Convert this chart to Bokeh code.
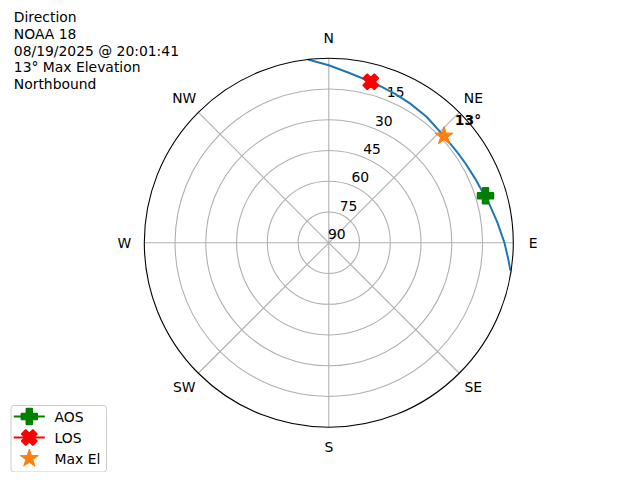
import numpy as np
from bokeh.plotting import figure
from bokeh.models import Range1d
from bokeh.core.properties import value
from bokeh.embed import file_html
from bokeh.resources import INLINE

# ---------------- data ----------------
track_az = [-6.5, 0.0, 6.7, 14.6, 18.2, 24.0, 30.2, 37.8, 47.2, 55.0, 60.0, 66.0, 71.7, 75.8, 83.0, 90.0, 95.6, 98.7]
track_el = [0.0, 3.4, 6.5, 8.8, 9.6, 10.5, 11.3, 12.2, 13.4, 13.3, 12.9, 12.1, 11.0, 9.6, 7.2, 4.3, 1.9, 0.4]
aos_az, aos_el = [73.3], [10.2]
los_az, los_el = [14.6], [8.8]
maxel_az, maxel_el = [47.2], [13.4]
max_el_text = "13°"
ring_el = [15, 30, 45, 60, 75]
rlabel_el = [15, 30, 45, 60, 75, 90]
rlabel_text = ["15", "30", "45", "60", "75", "90"]
compass_text = ["N", "NE", "E", "SE", "S", "SW", "W", "NW"]
compass_az = [0, 45, 90, 135, 180, 225, 270, 315]
title_lines = ["Direction", "NOAA 18", "08/19/2025 @ 20:01:41", "13° Max Elevation", "Northbound"]
legend_labels = ["AOS", "LOS", "Max El"]

# ---------------- layout helpers ----------------
R = 184.5              # px radius of the polar area
CX, CY = 328.3, 242.3  # px centre
OFF = 0
W, H = 632, 472
FONT = value("DejaVu Sans")
FS = value("13.9px")


def to_xy(az, el):
    a = np.radians(np.asarray(az, float))
    r = (90.0 - np.asarray(el, float)) / 90.0
    return r * np.sin(a), r * np.cos(a)


def px(x):
    return (x - CX) / R


def py(y):
    return (CY - y) / R


p = figure(width=W, height=H,
           x_range=Range1d(px(OFF), px(OFF + W)),
           y_range=Range1d(py(OFF + H), py(OFF)),
           output_backend="svg", toolbar_location=None,
           x_axis_type=None, y_axis_type=None, min_border=0,
           outline_line_color=None)
p.background_fill_color = "white"
p.border_fill_color = "white"

# grid rings
ring_r = [(90 - e) / 90 for e in ring_el]
p.circle(x=[0] * len(ring_r), y=[0] * len(ring_r), radius=ring_r,
         fill_color=None, line_color="#b0b0b0", line_width=1.1)
# spokes
sx, sy = to_xy(compass_az, [0] * len(compass_az))
p.segment(x0=[0] * len(sx), y0=[0] * len(sy), x1=sx, y1=sy,
          line_color="#b0b0b0", line_width=1.1)

# radial labels
rx, ry = to_xy([22.5] * len(rlabel_el), rlabel_el)
p.text(x=rx, y=ry, text=rlabel_text, x_offset=8, y_offset=-8.5,
       text_align="center", text_baseline="middle",
       text_font=FONT, text_font_size=FS, text_color="black")

# track
tx, ty = to_xy(track_az, track_el)
p.line(tx, ty, line_color="#1f77b4", line_width=2)

# markers
ax_, ay_ = to_xy(aos_az, aos_el)
p.scatter(ax_, ay_, marker="plus", size=16, fill_color="green", line_color="green", line_width=1.5)
lx, ly = to_xy(los_az, los_el)
p.scatter(lx, ly, marker="plus", angle=np.pi / 4, size=16, fill_color="red", line_color="red", line_width=1.5)
mx, my = to_xy(maxel_az, maxel_el)
p.scatter(mx, my, marker="star", size=19, fill_color="#ff7f0e", line_color="#ff7f0e", line_width=1)

# outer circle
p.circle(x=[0], y=[0], radius=[1.0], fill_color=None, line_color="black", line_width=1.1)

# max elevation annotation
ex, ey = to_xy(maxel_az, [0])
p.text(x=ex, y=ey, text=[max_el_text], x_offset=3.8, y_offset=2.5,
       text_align="center", text_baseline="middle",
       text_font=FONT, text_font_size=FS, text_font_style="bold", text_color="black")

# compass labels
cx, cy = to_xy(compass_az, [0] * len(compass_az))
p.text(x=cx * 1.108, y=cy * 1.108, text=compass_text,
       text_align="center", text_baseline="middle",
       text_font=FONT, text_font_size=FS, text_color="black")

# title block
ty_lines = [py(16.7 + 16.7 * i) for i in range(len(title_lines))]
p.text(x=[px(13.3)] * len(title_lines), y=ty_lines, text=title_lines,
       text_align="left", text_baseline="alphabetic",
       text_font=FONT, text_font_size=FS, text_color="black")

# legend (drawn manually)
p.quad(left=[px(10.5)], right=[px(106)], top=[py(405)], bottom=[py(471.5)],
       fill_color="white", fill_alpha=0.8, line_color="#cccccc", line_width=1,
       border_radius=3)
rows = [py(416), py(437), py(458)]
p.segment(x0=[px(13.3)] * 2, y0=rows[:2], x1=[px(44.3)] * 2, y1=rows[:2],
          line_color=["green", "red"], line_width=2)
p.scatter([px(28.8)], [rows[0]], marker="plus", size=16, fill_color="green", line_color="green", line_width=1.5)
p.scatter([px(28.8)], [rows[1]], marker="plus", angle=np.pi / 4, size=16, fill_color="red", line_color="red", line_width=1.5)
p.scatter([px(28.8)], [rows[2]], marker="star", size=19, fill_color="#ff7f0e", line_color="#ff7f0e", line_width=1)
p.text(x=[px(54)] * 3, y=rows, text=legend_labels,
       text_align="left", text_baseline="middle",
       text_font=FONT, text_font_size=FS, text_color="black")

open("out.html", "w").write(file_html(p, INLINE))
